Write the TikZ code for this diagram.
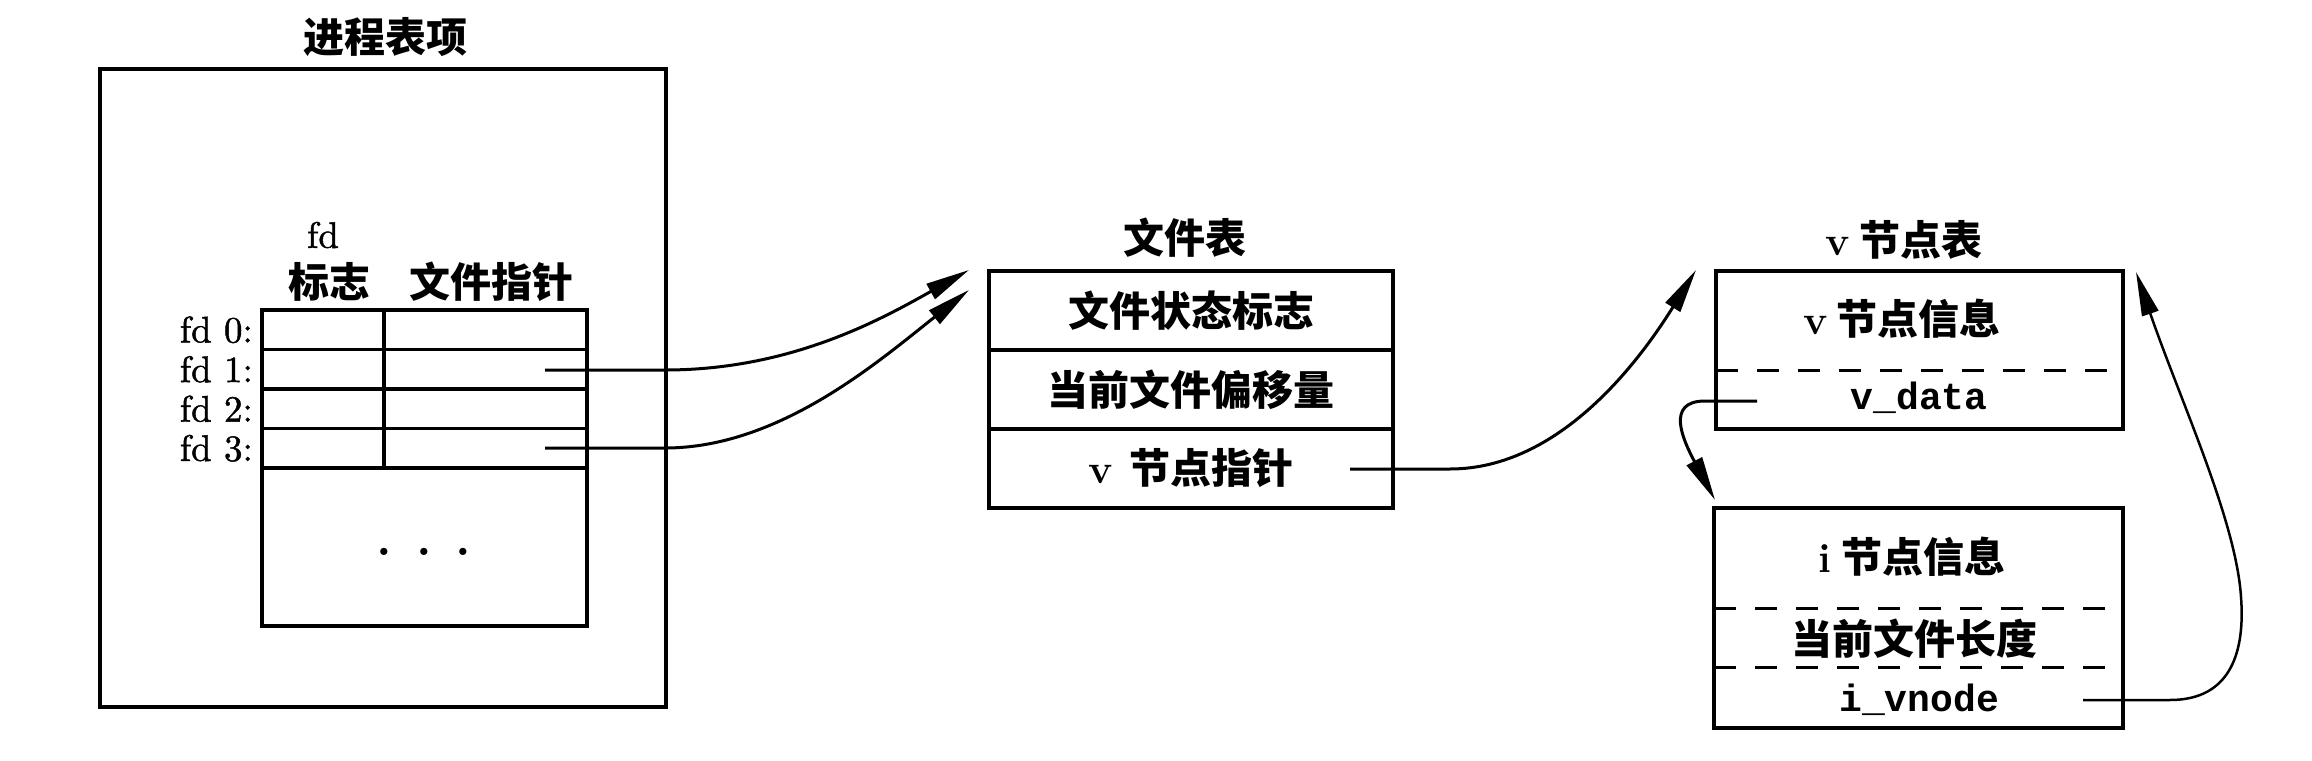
\documentclass[tikz,border=0pt]{standalone}
\usepackage{fontspec}
\newfontfamily\cjk{Noto Sans CJK SC}
\newfontfamily\monof{Liberation Mono}
\newfontfamily\lmheavy{lmroman10-regular.otf}[FakeBold=1.2]
\usetikzlibrary{arrows.meta,calc}
\begin{document}
\begin{tikzpicture}[x=1pt,y=-1pt,
  box/.style={draw, line width=3.5pt, inner sep=0pt, outer sep=0pt, anchor=north west},
  conn/.style={line width=3pt, -{Triangle[length=44pt,width=17pt]}},
  dashline/.style={line width=3pt, dash pattern=on 22pt off 19pt},
  cjkt/.style={font={\cjk\bfseries\fontsize{41pt}{48pt}\selectfont}, inner sep=0pt},
  lat/.style={font={\lmheavy\fontsize{37pt}{44pt}\selectfont}, inner sep=0pt},
  mono/.style={font={\monof\bfseries\fontsize{38pt}{44pt}\selectfont}, inner sep=0pt}]
\useasboundingbox (0,0) rectangle (2312,760);

% process table entry
\node[box, minimum width=566pt, minimum height=638pt] (proc) at (100,69) {};
\node[cjkt] (proctitle) at (385,37) {进程表项};
\node[lat] (fdh) at (323,235) {fd};
\node[cjkt] (flagh) at (329,282) {标志};
\node[cjkt] (ptrh) at (491,282) {文件指针};
\foreach \i/\y in {0/310,1/349.5,2/389,3/428.5}{
  \node[box, minimum width=122pt, minimum height=39.5pt] (fl\i) at (262,\y) {};
  \node[box, minimum width=203pt, minimum height=39.5pt] (fp\i) at (384,\y) {};
  \node[lat, anchor=east] (fd\i) at (253,\y+19.75) {fd \i:};
}
\node[box, minimum width=325pt, minimum height=158pt] (rest) at (262,468) {};
\node[anchor=base, inner sep=0pt, font={\bfseries\fontsize{50pt}{60pt}\selectfont}] (dots) at (424,555) {.\hspace{24pt}.\hspace{24pt}.};

% file table
\node[cjkt] (fttitle) at (1185,238) {文件表};
\node[box, cjkt, minimum width=404pt, minimum height=79pt] (ft1) at (989,271) {文件状态标志};
\node[box, cjkt, minimum width=404pt, minimum height=79pt] (ft2) at (989,350) {当前文件偏移量};
\node[box, cjkt, minimum width=404pt, minimum height=79pt] (ft3) at (989,429) {{\rmfamily v}\hspace{17pt}节点指针};

% v-node table
\node[cjkt] (vntitle) at (1904,240) {{\rmfamily v} 节点表};
\node[box, minimum width=407pt, minimum height=158pt] (vn) at (1716,271) {};
\draw[dashline] (1716,370) -- (2123,370);
\node[cjkt] (vninfo) at (1902,319) {{\rmfamily v} 节点信息};
\node[mono] (vdata) at (1919,398) {v\_data};

% i-node
\node[box, minimum width=409pt, minimum height=220pt] (in) at (1714,508) {};
\draw[dashline] (1714,608) -- (2123,608);
\draw[dashline] (1714,667) -- (2123,667);
\node[cjkt] (ininfo) at (1912,557) {{\rmfamily i} 节点信息};
\node[cjkt] (inlen) at (1914,639) {当前文件长度};
\node[mono] (ivnode) at (1919,700) {i\_vnode};

% connectors
\coordinate (s1) at (545,370); \coordinate (t1) at (969,270);
\draw[conn] (s1) -- (665,370) .. controls (790,370) and (880,320) .. (t1);
\coordinate (s2) at (545,448); \coordinate (t2) at (969,290);
\draw[conn] (s2) -- (665,448) .. controls (780,448) and (880,360) .. (t2);
\coordinate (s3) at (1350,469); \coordinate (t3) at (1696,270);
\draw[conn] (s3) -- (1450,469) .. controls (1560,469) and (1640,360) .. (t3);
\coordinate (s4) at (1757,401); \coordinate (t4) at (1715,500);
\draw[conn] (s4) -- (1705,401) .. controls (1665,401) and (1683,440) .. (t4);
\coordinate (s5) at (2083,700); \coordinate (t5) at (2136,272);
\draw[conn, line width=2.5pt] (s5) -- (2170,700) .. controls (2232,700) and (2245,650) .. (2241,597) .. controls (2236,520) and (2180,400) .. (t5);
\end{tikzpicture}
\end{document}
